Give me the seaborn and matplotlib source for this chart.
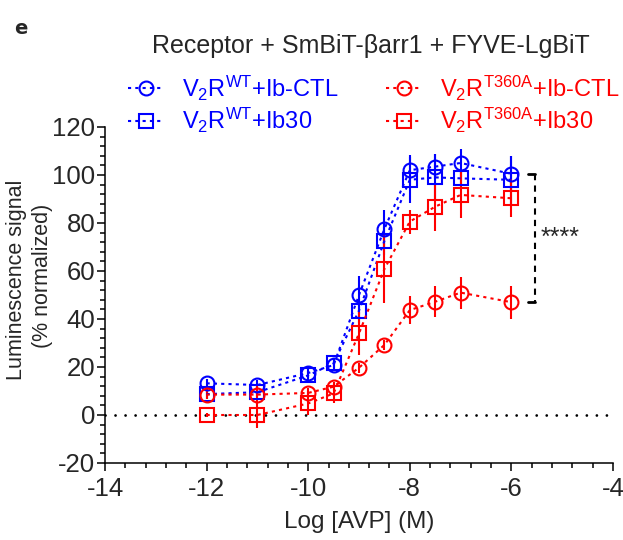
import numpy as np
import pandas as pd
import matplotlib
matplotlib.use('Agg')
import matplotlib.pyplot as plt
from matplotlib.ticker import MultipleLocator
import seaborn as sns

# log [AVP] (M)
log_avp = [-12, -11, -10, -9.5, -9, -8.5, -8, -7.5, -7, -6]

# luminescence signal (% normalized), mean and error
wt_ctl = [13.2, 12.5, 17.5, 20.8, 50.0, 77.5, 102.0, 103.5, 105.0, 100.5]
wt_ctl_err = [2, 2, 2, 2, 8, 7.8, 6.2, 5.3, 6.0, 7.5]
wt_ib30 = [8.7, 9.5, 16.5, 21.5, 43.5, 72.5, 98.0, 99.0, 98.6, 98.0]
wt_ib30_err = [2, 2, 2, 2, 5, 6, 9.5, 9.6, 3, 10]
mut_ctl = [8.5, 8.5, 9.2, 11.8, 19.7, 29.2, 43.7, 47.2, 51.0, 47.0]
mut_ctl_err = [2, 4, 2, 2, 2, 2, 5.8, 6.5, 6.7, 6.8]
mut_ib30 = [0.0, 0.0, 4.8, 9.0, 34.0, 60.8, 80.6, 86.8, 91.7, 90.3]
mut_ib30_err = [1, 5.5, 5, 4, 9, 14, 5, 10, 9.6, 8]

labels = [r'$\mathregular{V_2R^{WT}}$+Ib-CTL',
          r'$\mathregular{V_2R^{WT}}$+Ib30',
          r'$\mathregular{V_2R^{T360A}}$+Ib-CTL',
          r'$\mathregular{V_2R^{T360A}}$+Ib30']

sns.set_style('ticks')
plt.rcParams['font.family'] = ['Liberation Sans', 'DejaVu Sans']
plt.rcParams['axes.unicode_minus'] = False

fig = plt.figure(figsize=(6.23, 5.40), dpi=100)
ax = fig.add_axes([105 / 623, 77 / 540, 508 / 623, 336 / 540])

series = [
    (wt_ctl, wt_ctl_err, '#0000ff', 'o', labels[0]),
    (wt_ib30, wt_ib30_err, '#0000ff', 's', labels[1]),
    (mut_ctl, mut_ctl_err, '#ff0000', 'o', labels[2]),
    (mut_ib30, mut_ib30_err, '#ff0000', 's', labels[3]),
]

# zero baseline
ax.axhline(0, color='black', lw=2, linestyle=(0, (0.01, 3.6)),
           dash_capstyle='round', zorder=1)

for vals, err, col, mk, lab in series:
    df = pd.DataFrame({'x': log_avp, 'y': vals})
    ax.errorbar(log_avp, vals, yerr=err, fmt='none', ecolor=col,
                elinewidth=1.5, capsize=0, zorder=2)
    sns.lineplot(data=df, x='x', y='y', ax=ax, color=col, lw=1.5,
                 linestyle=(0, (1.5, 2)), marker=mk,
                 markersize=10 if mk == 'o' else 9.5,
                 markerfacecolor='none', markeredgecolor=col,
                 markeredgewidth=1.5, label=lab, zorder=3)

ax.set_xlim(-14, -4)
ax.set_ylim(-20, 120)
ax.xaxis.set_major_locator(MultipleLocator(2))
ax.xaxis.set_minor_locator(MultipleLocator(0.4))
ax.yaxis.set_major_locator(MultipleLocator(20))
ax.yaxis.set_minor_locator(MultipleLocator(4))
ax.tick_params(which='major', length=6, width=1.1, labelsize=18.5, pad=1,
               direction='out', color='black')
ax.tick_params(axis='x', which='major', pad=4)
ax.tick_params(which='minor', length=3.5, width=1.1, direction='out', color='black')
for s in ['left', 'bottom']:
    ax.spines[s].set_linewidth(1.1)
    ax.spines[s].set_color('black')
sns.despine(ax=ax)

ax.set_xlabel('Log [AVP] (M)', fontsize=17.5, labelpad=7)
ax.set_ylabel('')
fig.text(0.026, 0.482, 'Luminescence signal', rotation=90, fontsize=15.5,
         ha='center', va='center')
fig.text(0.068, 0.49, '(% normalized)', rotation=90, fontsize=15.5,
         ha='center', va='center')

# significance bracket between the two Ib-CTL plateaus
bx = log_avp[-1] + 0.47
top, bot = wt_ctl[-1], mut_ctl[-1]
ax.plot([bx, bx], [top, bot], color='black', lw=1.5, linestyle=(0, (3, 2.5)))
ax.plot([bx - 0.15, bx], [top, top], color='black', lw=2)
ax.plot([bx - 0.15, bx], [bot, bot], color='black', lw=2)
ax.text(bx + 0.1, (top + bot) / 2, '****', fontsize=18, ha='left', va='center')

leg = ax.legend(loc='lower left', bbox_to_anchor=(0.045, 0.975), ncol=2,
                frameon=False, fontsize=17, handlelength=1.5, handletextpad=0.8,
                columnspacing=2.0, labelspacing=0.15, borderaxespad=0,
                borderpad=0)
for t, (_, _, col, _, _) in zip(leg.get_texts(), series):
    t.set_color(col)

fig.text(0.5955, 0.914, 'Receptor + SmBiT-βarr1 + FYVE-LgBiT', fontsize=18,
         ha='center', va='center')
fig.text(0.033, 0.948, 'e', fontsize=14, fontweight='bold', ha='center',
         va='center', family='DejaVu Sans')

fig.savefig('out.png', dpi=100)
